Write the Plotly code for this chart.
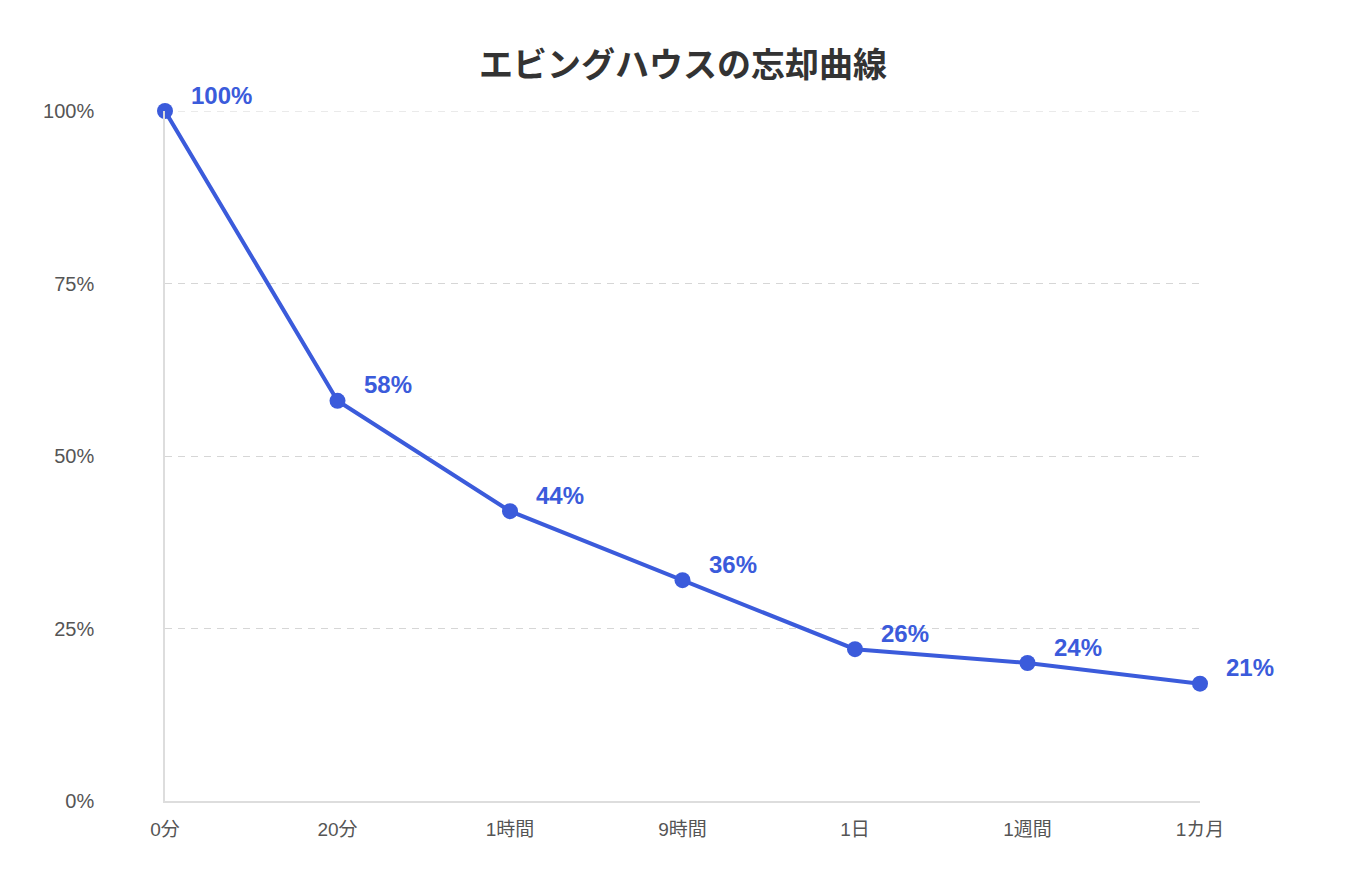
import plotly.graph_objects as go

categories = ["0分", "20分", "1時間", "9時間", "1日", "1週間", "1カ月"]
retention = [100, 58, 42, 32, 22, 20, 17]
label_text = ["100%", "58%", "44%", "36%", "26%", "24%", "21%"]
y_ticks = [0, 25, 50, 75, 100]
y_tick_text = ["0%", "25%", "50%", "75%", "100%"]

BLUE = "#3B5BDB"
FONT = "Liberation Sans, Arial, Noto Sans CJK JP, sans-serif"
CJK = "Liberation Sans, Noto Sans CJK JP, sans-serif"
GRID = "#d6d6d6"

xs = list(range(len(categories)))

fig = go.Figure()
fig.add_trace(go.Scatter(
    x=xs, y=retention, mode="lines+markers",
    line=dict(color=BLUE, width=4),
    marker=dict(color=BLUE, size=16),
    cliponaxis=False, hoverinfo="skip", showlegend=False,
))

for x, y, t in zip(xs, retention, label_text):
    fig.add_annotation(
        x=x, y=y, text=t, showarrow=False, xanchor="left", yanchor="middle",
        xshift=24, yshift=16,
        font=dict(family=FONT, size=24, color=BLUE, weight="bold"),
    )

# gridline at the top edge (100%) that plotly omits at the range boundary
fig.add_shape(type="line", xref="x", yref="y", x0=0, x1=6, y0=y_ticks[-1], y1=y_ticks[-1],
              line=dict(color=GRID, width=1, dash="7px,6px"), layer="below")

fig.update_layout(
    width=1366, height=878,
    paper_bgcolor="white", plot_bgcolor="white",
    margin=dict(l=157, r=174, t=103, b=85, autoexpand=False),
    title=dict(text="<b>エビングハウスの忘却曲線</b>", x=675 / 1366, xanchor="center",
               y=1 - 57 / 878, yanchor="middle",
               font=dict(family="Noto Sans CJK JP, sans-serif", size=34, color="#333333")),
    font=dict(family=FONT, size=19, color="#555555"),
)
fig.update_xaxes(
    range=[0, 6], tickvals=xs, ticktext=categories,
    showgrid=False, zeroline=False, automargin=False,
    showline=True, linecolor="#dddddd", linewidth=1.5,
    ticks="", ticklabelstandoff=10,
    tickfont=dict(family=CJK, size=19, color="#555555"),
)
fig.update_yaxes(
    range=[0, 100], tickvals=y_ticks, ticktext=y_tick_text,
    showgrid=True, gridcolor=GRID, griddash="7px,6px", gridwidth=1,
    zeroline=False, showline=True, linecolor="#dddddd", linewidth=1.5,
    automargin=False,
    ticks="", ticklabelstandoff=65,
    tickfont=dict(family=FONT, size=20, color="#555555"),
)

fig.write_html("out.html")
